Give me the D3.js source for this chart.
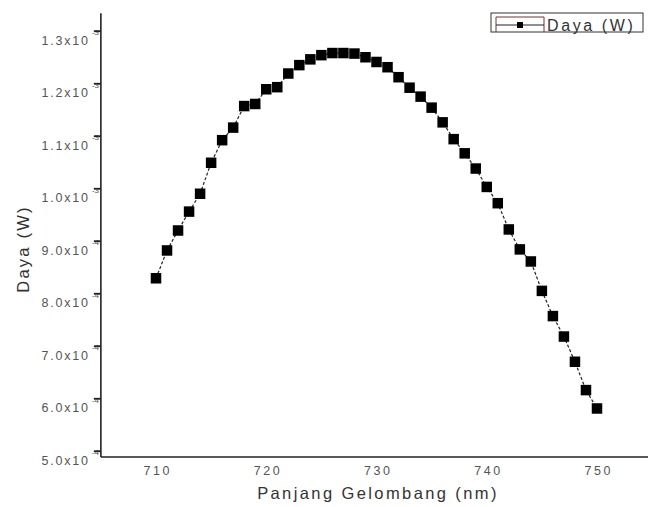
<!DOCTYPE html>
<html><head><meta charset="utf-8">
<script src="https://cdn.jsdelivr.net/npm/d3@7"></script>
<style>body{margin:0;background:#fff}svg{display:block}</style>
</head><body>
<svg id="c" width="648" height="507"></svg>
<script>
const wavelengths = d3.range(710, 751);
const power = [8.29e-4,8.82e-4,9.20e-4,9.56e-4,9.90e-4,10.49e-4,10.92e-4,11.16e-4,11.57e-4,11.61e-4,
  11.89e-4,11.93e-4,12.19e-4,12.35e-4,12.46e-4,12.54e-4,12.58e-4,12.58e-4,12.57e-4,12.50e-4,
  12.41e-4,12.31e-4,12.12e-4,11.92e-4,11.75e-4,11.54e-4,11.26e-4,10.94e-4,10.67e-4,10.38e-4,
  10.03e-4,9.72e-4,9.22e-4,8.84e-4,8.61e-4,8.05e-4,7.57e-4,7.18e-4,6.70e-4,6.16e-4,5.81e-4];
const xTicks = [710,720,730,740,750];
const yTicks = [5e-4,6e-4,7e-4,8e-4,9e-4,1.0e-3,1.1e-3,1.2e-3,1.3e-3];
const yTickMantissa = ["5.0","6.0","7.0","8.0","9.0","1.0","1.1","1.2","1.3"];
const yTickExp = ["-4","-4","-4","-4","-4","-3","-3","-3","-3"];
const seriesName = "Daya (W)";
const xTitle = "Panjang Gelombang (nm)";
const yTitle = "Daya (W)";

const svg = d3.select("#c");
const x = d3.scaleLinear().domain([710,750]).range([156,597]);
const y = d3.scaleLinear().domain([5e-4,1.3e-3]).range([451,31]);
const xLo = 705, yLo = 4.886e-4, yHi = 1.334e-3;
const font = "Liberation Sans, Arial, sans-serif";

// data line
const line = d3.line().x((d,i)=>x(wavelengths[i])).y(d=>y(d));
svg.append("path").datum(power).attr("d", line)
  .attr("fill","none").attr("stroke","#222").attr("stroke-width",1.2)
  .attr("stroke-dasharray","3,2");
const ms = 10.5;
svg.selectAll("rect.m").data(power).join("rect").attr("class","m")
  .attr("x",(d,i)=>x(wavelengths[i])-ms/2).attr("y",d=>y(d)-ms/2)
  .attr("width",ms).attr("height",ms).attr("fill","#000");

// y axis
const gy = svg.append("g").attr("transform","translate("+x(xLo)+",0)")
  .call(d3.axisLeft(y).tickValues(yTicks).tickSize(7).tickFormat(""));
gy.select(".domain").remove();
gy.selectAll(".tick line").attr("stroke","#222").attr("stroke-width",1.3);
svg.append("line").attr("x1",x(xLo)).attr("x2",x(xLo)).attr("y1",y(yHi)).attr("y2",y(yLo))
  .attr("stroke","#222").attr("stroke-width",1.6);
const lab = svg.append("g").attr("font-family",font).attr("fill","#555");
yTicks.forEach((v,i)=>{
  lab.append("text").attr("x",x(xLo)-11).attr("y",y(v)+13.5)
    .attr("text-anchor","end").attr("font-size",12.5).attr("letter-spacing",1.8).text(yTickMantissa[i]+"x10");
  lab.append("text").attr("x",x(xLo)-9).attr("y",y(v)+4).attr("font-size",8)
    .attr("fill","#555").text(yTickExp[i]);
});
yTicks.forEach(v=>{
  svg.append("line").attr("x1",x(xLo)-7).attr("x2",x(xLo)).attr("y1",y(v)).attr("y2",y(v))
    .attr("stroke","#222").attr("stroke-width",1.3);
});

// x axis
const gx = svg.append("g").attr("transform","translate(0,"+y(yLo)+")")
  .call(d3.axisBottom(x).tickValues(xTicks).tickSize(0).tickPadding(9));
gx.select(".domain").remove();
gx.selectAll("text").attr("font-family",font)
  .attr("font-size",12.5).attr("letter-spacing",2.6).attr("fill","#555").attr("dx",1.3);
svg.append("line").attr("x1",x(xLo)).attr("x2",648).attr("y1",y(yLo)).attr("y2",y(yLo))
  .attr("stroke","#222").attr("stroke-width",1.6);

// titles
svg.append("text").attr("x",378).attr("y",499).attr("text-anchor","middle")
  .attr("font-family",font).attr("font-size",16.5)
  .attr("letter-spacing",2.4).attr("fill","#333").text(xTitle);
svg.append("text").attr("transform","translate(29,249) rotate(-90)").attr("text-anchor","middle")
  .attr("font-family",font).attr("font-size",16.5)
  .attr("letter-spacing",2.2).attr("fill","#333").text(yTitle);

// legend
const lg = svg.append("g");
lg.append("rect").attr("x",491).attr("y",13).attr("width",152).attr("height",19)
  .attr("fill","#fff").attr("stroke","#333").attr("stroke-width",1);
lg.append("path").attr("d","M496,32 V17 H544 V32").attr("fill","none").attr("stroke","#7a3030").attr("stroke-width",1);
lg.append("line").attr("x1",496).attr("x2",544).attr("y1",25).attr("y2",25).attr("stroke","#222").attr("stroke-width",1.2);
lg.append("rect").attr("x",517).attr("y",22).attr("width",6).attr("height",6).attr("fill","#000");
lg.append("text").attr("x",547).attr("y",30.5).attr("font-family",font)
  .attr("font-size",16).attr("letter-spacing",2.6).attr("fill","#333").text(seriesName);
</script>
</body></html>
